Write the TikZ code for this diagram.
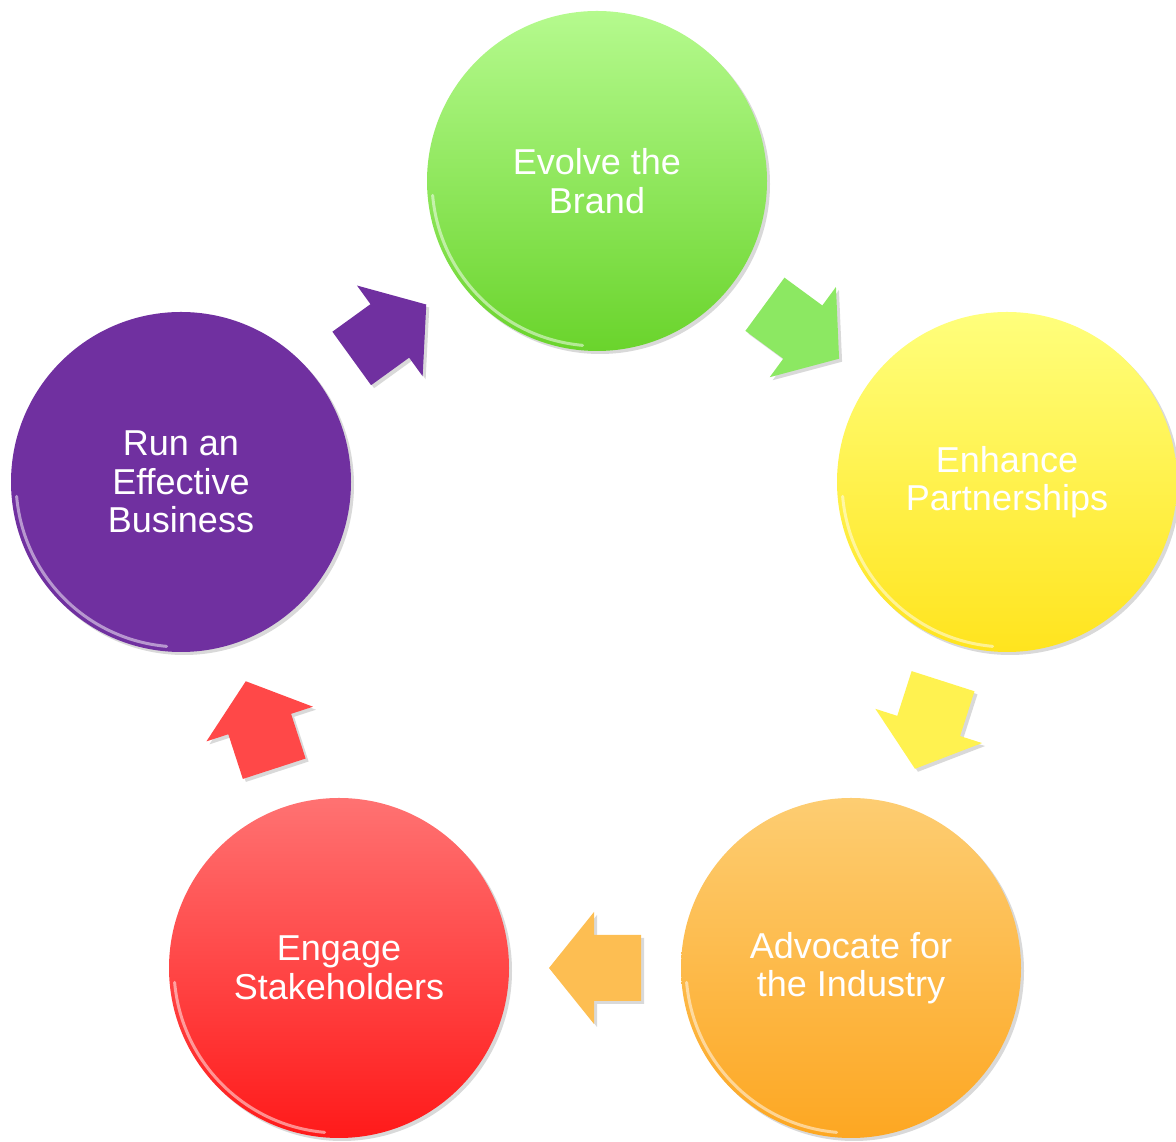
\documentclass[tikz,border=0pt]{standalone}
\usepackage{fontspec}
\setmainfont{Liberation Sans}
\usetikzlibrary{calc,shadows}
\definecolor{greenT}{HTML}{B5FA8E}
\definecolor{greenB}{HTML}{6AD42C}
\definecolor{yellowT}{HTML}{FFFF7C}
\definecolor{yellowB}{HTML}{FFE41E}
\definecolor{orangeT}{HTML}{FDCD72}
\definecolor{orangeB}{HTML}{FDA722}
\definecolor{redT}{HTML}{FF7272}
\definecolor{redB}{HTML}{FF1A1A}
\definecolor{purpleC}{HTML}{7030A0}
\definecolor{arrowG}{HTML}{8CE862}
\definecolor{arrowY}{HTML}{FFF250}
\definecolor{arrowO}{HTML}{FDBE52}
\definecolor{arrowR}{HTML}{FF4848}
\tikzset{
  bubble/.style={circle, minimum size=340pt, inner sep=0pt, text=white,
    align=center, font=\fontsize{36}{38.5}\selectfont,
    drop shadow={shadow xshift=3pt, shadow yshift=-3pt, opacity=0.25, fill=black!60}},
  blockarrow/.pic={
    \fill[#1] (46,0) -- (1,56) -- (1,33) -- (-46,33) -- (-46,-33) -- (1,-33) -- (1,-56) -- cycle;
  }
}
\begin{document}
\begin{tikzpicture}[x=1pt,y=1pt]
\useasboundingbox (0,0) rectangle (1176,1142);
\node[bubble, top color=greenT, bottom color=greenB] (brand) at (597,961) {Evolve the\\Brand};
\node[bubble, top color=yellowT, bottom color=yellowB] (partner) at (1007,660) {Enhance\\Partnerships};
\node[bubble, top color=orangeT, bottom color=orangeB] (advocate) at (851,174) {Advocate for\\the Industry};
\node[bubble, top color=redT, bottom color=redB] (engage) at (339,174) {Engage\\Stakeholders};
\node[bubble, fill=purpleC] (run) at (181,660) {Run an\\Effective\\Business};
\foreach \n in {brand,partner,advocate,engage,run}
  \draw[white, opacity=0.5, line width=3pt, line cap=round]
    ([shift={(185:165)}]\n.center) arc[start angle=185, end angle=265, radius=165];
\foreach \a/\b/\c in {run/brand/purpleC, brand/partner/arrowG, partner/advocate/arrowY, advocate/engage/arrowO, engage/run/arrowR}
  \path let \p1=($(\b.center)-(\a.center)$), \n1={atan2(\y1,\x1)} in
    ($(\a.center)!0.5!(\b.center)+(3,-3)$) pic[rotate=\n1, opacity=0.15] {blockarrow=black}
    ($(\a.center)!0.5!(\b.center)$) pic[rotate=\n1] {blockarrow=\c};
\end{tikzpicture}
\end{document}
